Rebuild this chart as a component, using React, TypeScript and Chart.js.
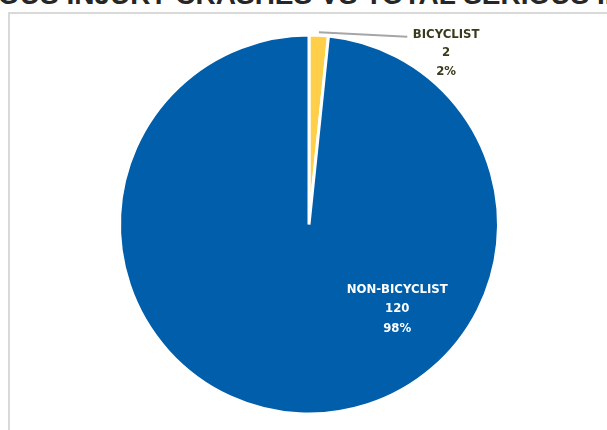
import React, { useEffect, useRef } from "react";
import { Chart, registerables } from "chart.js";

Chart.register(...registerables);

const categories = ["BICYCLIST", "NON-BICYCLIST"];
const values = [2, 120];
const percentLabels = ["2%", "98%"];
const sliceColors = ["#FFCF4A", "#005EAA"];
const labelColors = ["#3a3a1c", "#ffffff"];
const titleBefore = "BICYCLIST SERIOUS INJURY CRASHES ";
const titleAfter = "VS TOTAL SERIOUS INJURY CRASHES";

const LABEL_FONT = "bold 13px 'Liberation Sans Narrow', 'DejaVu Sans Condensed', 'Liberation Sans', sans-serif";

const labelPlugin = {
  id: "sliceLabels",
  afterDatasetsDraw(chart: any) {
    const ctx = chart.ctx as CanvasRenderingContext2D;
    const meta = chart.getDatasetMeta(0);
    meta.data.forEach((arc: any, i: number) => {
      const p = arc.getProps(["x", "y", "outerRadius", "startAngle", "endAngle"], true);
      const R = p.outerRadius + 1;
      const lines = [categories[i], String(values[i]), percentLabels[i]];
      let cx: number, ys: number[];
      ctx.save();
      if (i === 0) {
        const mid = (p.startAngle + p.endAngle) / 2;
        const sx = p.x + (R + 2) * Math.cos(mid);
        const sy = p.y + (R + 2) * Math.sin(mid);
        const ex = p.x + 0.516 * R;
        const ey = p.y - 0.985 * R;
        ctx.strokeStyle = "#a6a6a6";
        ctx.lineWidth = 2;
        ctx.beginPath();
        ctx.moveTo(sx, sy);
        ctx.lineTo(ex, ey);
        ctx.stroke();
        cx = p.x + 0.72 * R;
        ys = [p.y - 0.998 * R, p.y - 0.9 * R, p.y - 0.802 * R];
      } else {
        cx = p.x + 0.463 * R;
        ys = [p.y + 0.341 * R, p.y + 0.444 * R, p.y + 0.548 * R];
      }
      ctx.fillStyle = labelColors[i];
      ctx.font = LABEL_FONT;
      ctx.textAlign = "center";
      ctx.textBaseline = "middle";
      lines.forEach((t, k) => ctx.fillText(t, cx, ys[k]));
      ctx.restore();
    });
  },
};

export default function App() {
  const ref = useRef<HTMLCanvasElement>(null);
  useEffect(() => {
    if (!ref.current) return;
    const chart = new Chart(ref.current, {
      type: "pie",
      data: {
        labels: categories,
        datasets: [
          {
            data: values,
            backgroundColor: sliceColors,
            borderColor: "#ffffff",
            borderWidth: 3,
          },
        ],
      },
      options: {
        responsive: false,
        animation: false,
        layout: { padding: { left: 118, right: 107, top: 33, bottom: 14 } },
        plugins: {
          legend: { display: false },
          tooltip: { enabled: false },
          title: { display: false },
        },
      },
      plugins: [labelPlugin],
    });
    return () => chart.destroy();
  }, []);

  return (
    <div
      style={{
        position: "fixed",
        left: 0,
        top: 0,
        width: 607,
        height: 430,
        overflow: "hidden",
        background: "#ffffff",
      }}
    >
      <div
        style={{
          position: "absolute",
          left: 8,
          top: 12,
          width: 800,
          height: 600,
          border: "2px solid #d9d9d9",
          boxSizing: "border-box",
        }}
      />
      <div
        style={{
          position: "absolute",
          left: 320,
          top: -19,
          whiteSpace: "nowrap",
          fontFamily: "'Liberation Sans', Arial, sans-serif",
          fontWeight: "bold",
          fontSize: 28,
          lineHeight: "28px",
          color: "#262626",
        }}
      >
        <span style={{ position: "absolute", right: "100%", top: 0, whiteSpace: "pre" }}>{titleBefore}</span>
        <span>{titleAfter}</span>
      </div>
      <canvas ref={ref} width={607} height={430} style={{ position: "absolute", left: 0, top: 0 }} />
    </div>
  );
}
